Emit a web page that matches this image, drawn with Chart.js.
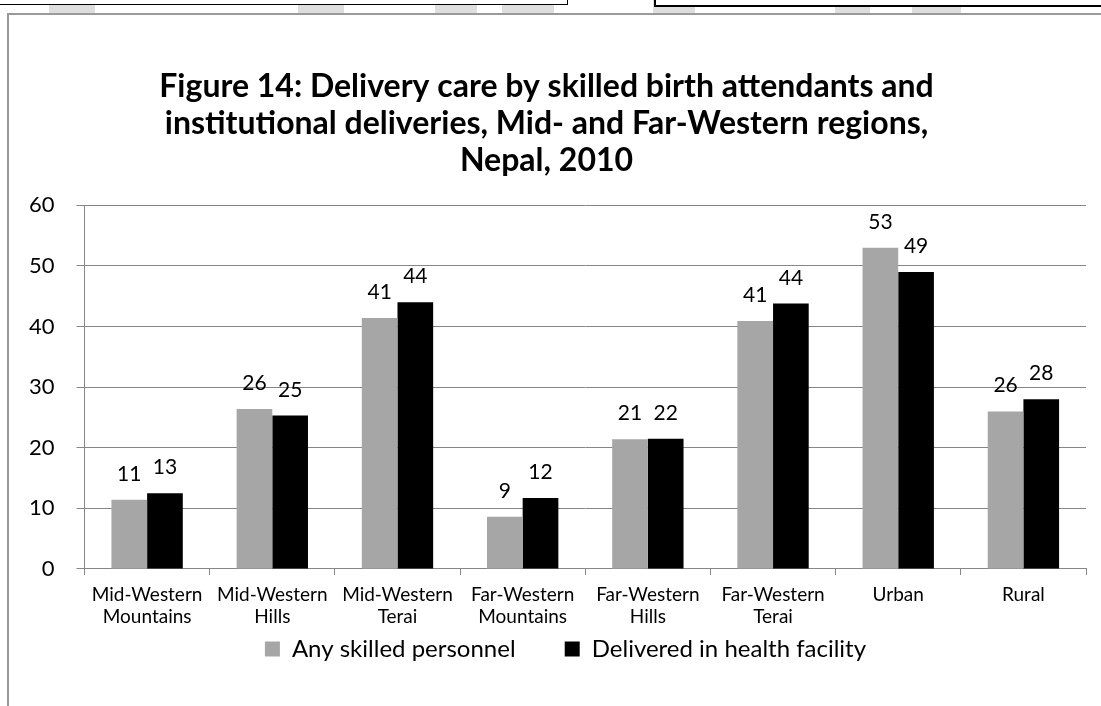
<!DOCTYPE html>
<html>
<head>
<meta charset="utf-8">
<script src="https://cdn.jsdelivr.net/npm/chart.js@4.4.1/dist/chart.umd.min.js"></script>
<style>
  html, body { margin: 0; padding: 0; background: #fff; overflow: hidden; }
  #page { position: relative; width: 1101px; height: 706px; }
  .mark { position: absolute; top: 0; height: 14px; background: #dedede; }
  .box { position: absolute; border: 1.5px solid #000; background: #fff; }
  #frame { position: absolute; left: 7px; top: 13px; width: 1120px; height: 720px;
           border: 2px solid #9a9a9a; background: #fff; }
  #wrap { position: absolute; left: 0; top: 0; width: 1101px; height: 706px; }
</style>
</head>
<body>
<div id="page">
  <div class="mark" style="left:49px;width:46px"></div>
  <div class="mark" style="left:298px;width:46px"></div>
  <div class="mark" style="left:435px;width:42px"></div>
  <div class="mark" style="left:502px;width:52px"></div>
  <div class="mark" style="left:653px;width:42px"></div>
  <div class="mark" style="left:835px;width:35px"></div>
  <div class="mark" style="left:912px;width:49px"></div>
  <div class="box" style="left:-4px;top:-20px;width:570px;height:23px"></div>
  <div class="box" style="left:654px;top:-20px;width:460px;height:23px;border-width:2px"></div>
  <div id="frame"></div>
  <div id="wrap"><canvas id="chart"></canvas></div>
</div>
<script>
// chart data
const categories = [
  ["Mid-Western", "Mountains"],
  ["Mid-Western", "Hills"],
  ["Mid-Western", "Terai"],
  ["Far-Western", "Mountains"],
  ["Far-Western", "Hills"],
  ["Far-Western", "Terai"],
  "Urban",
  "Rural"
];
const anySkilled = [11.4, 26.4, 41.4, 8.6, 21.4, 40.9, 53.0, 26.0];
const healthFacility = [12.5, 25.3, 44.0, 11.7, 21.5, 43.8, 49.0, 28.0];
const seriesNames = ["Any skilled personnel", "Delivered in health facility"];
const yTicks = [0, 10, 20, 30, 40, 50, 60];
const titleLines = [
  "Figure 14: Delivery care by skilled birth attendants and",
  "institutional deliveries, Mid- and Far-Western regions,",
  "Nepal, 2010"
];

const FONT = "Lato, 'Open Sans', sans-serif";
const GRID = "#868686";

// draws rounded values above each bar
const barLabels = {
  id: "barLabels",
  afterDatasetsDraw(chart) {
    const ctx = chart.ctx;
    ctx.save();
    ctx.font = "21px " + FONT;
    ctx.fillStyle = "#000";
    ctx.textAlign = "center";
    ctx.textBaseline = "alphabetic";
    chart.data.datasets.forEach((ds, i) => {
      chart.getDatasetMeta(i).data.forEach((bar, j) => {
        ctx.fillText(Math.round(ds.data[j]), bar.x, bar.y - 19);
      });
    });
    ctx.restore();
  }
};

// nudge the legend a bit right, like the original
const legendShift = {
  id: "legendShift",
  afterLayout(chart) {
    if (chart.legend) {
      chart.legend.left += 19;
      chart.legend.right += 19;
    }
  }
};

new Chart(document.getElementById("chart"), {
  type: "bar",
  data: {
    labels: categories,
    datasets: [
      { label: seriesNames[0], data: anySkilled, backgroundColor: "#a6a6a6" },
      { label: seriesNames[1], data: healthFacility, backgroundColor: "#000000" }
    ]
  },
  options: {
    responsive: true,
    maintainAspectRatio: false,
    animation: false,
    datasets: { bar: { categoryPercentage: 0.57, barPercentage: 1.0 } },
    layout: { padding: { left: 7, right: 15, top: 0, bottom: 35 } },
    scales: {
      x: {
        grid: { offset: true, drawOnChartArea: false, color: GRID, tickLength: 6 },
        border: { color: GRID },
        ticks: { color: "#000", font: { family: FONT, size: 19, lineHeight: 1.16 }, maxRotation: 0, autoSkip: false, padding: 9 }
      },
      y: {
        min: yTicks[0],
        max: yTicks[yTicks.length - 1],
        afterBuildTicks: axis => { axis.ticks = yTicks.map(v => ({ value: v })); },
        grid: { color: GRID, tickLength: 8 },
        border: { color: GRID },
        ticks: { color: "#000", font: { family: FONT, size: 22 }, padding: 22 }
      }
    },
    plugins: {
      title: {
        display: true,
        text: titleLines,
        color: "#000",
        font: { family: FONT, size: 32, weight: "bold", lineHeight: 1.16 },
        padding: { top: 68, bottom: 26 }
      },
      legend: {
        position: "bottom",
        labels: {
          color: "#000",
          font: { family: FONT, size: 24 },
          boxWidth: 15,
          boxHeight: 15,
          padding: 0,
          // trailing spaces widen the gap between the two entries
          generateLabels: chart => {
            const items = Chart.defaults.plugins.legend.labels.generateLabels(chart);
            items[0].text += "        ";
            return items;
          }
        }
      },
      tooltip: { enabled: false }
    }
  },
  plugins: [barLabels, legendShift]
});
</script>
</body>
</html>
